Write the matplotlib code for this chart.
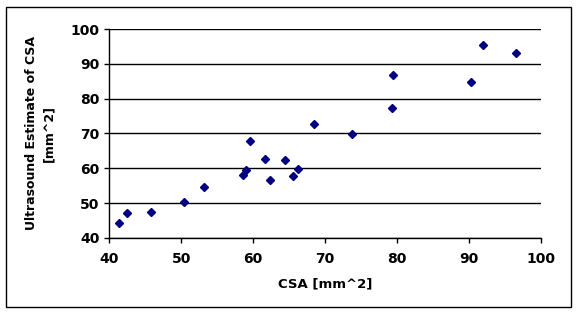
import matplotlib
matplotlib.use("Agg")
import matplotlib.pyplot as plt
from matplotlib.patches import Rectangle

# measured CSA vs ultrasound estimate (mm^2)
csa = [41.35, 42.5, 45.8, 50.3, 53.2, 58.6, 59.0, 59.6, 61.7, 62.3,
       64.4, 65.5, 66.2, 68.4, 73.8, 79.3, 79.4, 90.3, 91.9, 96.5]
us_est = [44.2, 47.1, 47.5, 50.4, 54.6, 58.0, 59.5, 67.8, 62.7, 56.6,
          62.4, 57.7, 59.7, 72.8, 69.8, 77.4, 86.8, 84.7, 95.4, 93.1]
ticks = [40, 50, 60, 70, 80, 90, 100]

plt.rcParams['font.family'] = ['DejaVu Sans']
plt.rcParams['font.weight'] = 'bold'

fig = plt.figure(figsize=(5.76, 3.13), dpi=100)
ax = fig.add_axes([0.19, 0.24, 0.749, 0.667])

# outer chart border
fig.patches.append(Rectangle((6 / 576, 6 / 313), 565 / 576, 300 / 313,
                             transform=fig.transFigure, fill=False,
                             edgecolor='black', linewidth=1))

ax.plot(csa, us_est, linestyle='none', marker='D', markersize=4.2,
        color='#000080', zorder=3)

ax.set_xlim(40, 100)
ax.set_ylim(40, 100)
ax.set_xticks(ticks)
ax.set_yticks(ticks)
ax.yaxis.grid(True, color='black', linewidth=1)
ax.set_axisbelow(True)
for s in ['top', 'right']:
    ax.spines[s].set_visible(False)
ax.spines['left'].set_linewidth(1)
ax.spines['bottom'].set_linewidth(1)
ax.tick_params(direction='out', length=3.6, width=1, labelsize=10)
ax.tick_params(axis='x', pad=6.5)
ax.tick_params(axis='y', pad=3.5)

ax.set_xlabel('CSA [mm^2]', fontsize=9.5, fontweight='bold', labelpad=8)
ax.set_ylabel('Ultrasound Estimate of CSA\n[mm^2]', fontsize=9,
              fontweight='bold', labelpad=11, linespacing=1.45)

fig.savefig('out.png', dpi=100)
